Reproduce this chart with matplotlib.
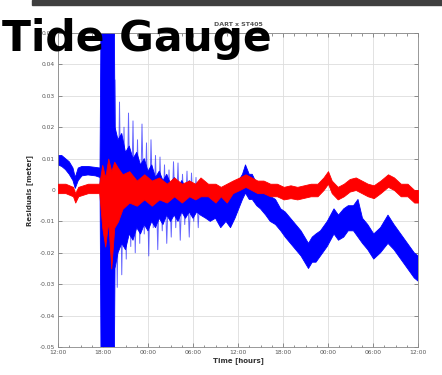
import numpy as np
import matplotlib
matplotlib.use("Agg")
import matplotlib.pyplot as plt
from matplotlib.patches import Rectangle
from matplotlib.ticker import MultipleLocator

# hours after 12:00 on day 1
tick_hours = [0, 6, 12, 18, 24, 30, 36, 42, 48]
tick_labels = ["12:00", "18:00", "00:00", "06:00", "12:00", "18:00", "00:00", "06:00", "12:00"]
y_ticks = [0.05, 0.04, 0.03, 0.02, 0.01, 0, -0.01, -0.02, -0.03, -0.04, -0.05]
y_labels = ["0.05", "0.04", "0.03", "0.02", "0.01", "0", "-0.01", "-0.02", "-0.03", "-0.04", "-0.05"]

# DART residual (blue) - dense band
blue_t = [0, 0.5, 1, 1.5, 2, 2.3, 2.7, 3.2, 4, 5, 5.6, 5.75, 7.5,
          7.6, 8.0, 8.5, 9.0, 9.5, 10, 10.5, 11, 11.5, 12, 12.5, 13, 13.5, 14, 14.5, 15, 15.5,
          16, 16.5, 17, 17.5, 18, 18.5,
          19.0, 19.7, 20.3, 21.0, 21.7, 22.4, 23.0, 23.6, 24.1, 24.6, 25.0, 25.5, 25.9, 26.5,
          27.0, 27.7, 28.3, 29.0, 29.7, 30.3, 31.0, 31.7, 32.4, 32.9, 33.4, 33.9, 34.4, 35.0,
          35.9, 36.8, 37.4, 38.1, 38.7, 39.4, 40.0, 40.6, 41.3, 42.1, 43.0, 44.0, 44.8, 45.7,
          46.6, 47.5, 48]
blue_hi = [0.011, 0.011, 0.010, 0.009, 0.007, 0.004, 0.007, 0.0075, 0.0075, 0.0072, 0.007, 0.06, 0.06,
           0.020, 0.016, 0.018, 0.012, 0.014, 0.010, 0.012, 0.008, 0.010, 0.006, 0.008, 0.004, 0.006,
           0.003, 0.005, 0.002, 0.004, 0.001, 0.003, 0.001, 0.003, 0.0, 0.002,
           0.003, 0.0, 0.000, 0.001, -0.002, 0.0, -0.002, 0.0, 0.003, 0.005, 0.008, 0.005, 0.005,
           0.002, 0.002, -0.001, -0.002, -0.003, -0.006, -0.007, -0.009, -0.011, -0.013, -0.015,
           -0.017, -0.015, -0.014, -0.013, -0.010, -0.006, -0.008, -0.006, -0.005, -0.005, -0.003,
           -0.009, -0.011, -0.014, -0.012, -0.008, -0.011, -0.014, -0.017, -0.020, -0.021]
blue_lo = [0.008, 0.0075, 0.0065, 0.005, 0.003, 0.0005, 0.003, 0.0045, 0.0048, 0.0045, 0.004, -0.06, -0.06,
           -0.025, -0.020, -0.017, -0.019, -0.014, -0.016, -0.012, -0.014, -0.011, -0.013, -0.010,
           -0.012, -0.009, -0.011, -0.008, -0.010, -0.008, -0.010, -0.007, -0.009, -0.007, -0.009, -0.007,
           -0.008, -0.009, -0.010, -0.009, -0.012, -0.010, -0.012, -0.009, -0.006, -0.003, -0.001,
           -0.003, -0.003, -0.005, -0.006, -0.008, -0.010, -0.011, -0.013, -0.015, -0.017, -0.019,
           -0.021, -0.023, -0.025, -0.023, -0.023, -0.021, -0.018, -0.014, -0.016, -0.015, -0.013,
           -0.013, -0.015, -0.017, -0.019, -0.022, -0.020, -0.017, -0.019, -0.022, -0.025, -0.028, -0.029]

# DART spikes after the arrival
spike_t = [7.6, 7.9, 8.2, 8.5, 8.8, 9.1, 9.4, 9.7, 10.0, 10.3, 10.6, 10.9, 11.2, 11.5, 11.8, 12.1,
           12.4, 12.7, 13.0, 13.3, 13.6, 13.9, 14.2, 14.5, 14.8, 15.1, 15.4, 15.7, 16.0, 16.3, 16.6,
           16.9, 17.2, 17.5, 17.8, 18.1, 18.4, 18.7, 19.0, 19.3]
spike_v = [0.035, -0.031, 0.028, -0.027, 0.02, -0.022, 0.0245, -0.018, 0.022, -0.02, 0.016, -0.017,
           0.021, -0.014, 0.015, -0.021, 0.016, -0.012, 0.011, -0.019, 0.0105, -0.013, 0.008, -0.017,
           0.0064, -0.015, 0.009, -0.012, 0.0086, -0.016, 0.005, -0.011, 0.006, -0.015, 0.0054, -0.01,
           0.004, -0.012, 0.003, -0.008]

# tide gauge residual (red)
red_t = [0, 1, 2, 2.3, 2.7, 4, 5.5, 5.9, 6.3, 6.7, 7.1, 7.5, 8.0, 8.6, 9.5, 10.5, 11.5, 12.5,
         13.5, 14.5, 15.5, 16.5, 17.5, 18.3,
         19, 20, 21, 21.7, 22.5, 23.3, 24.2, 25.0, 25.8, 26.6, 27.4, 28.3, 29.2, 30.1, 31.0, 31.9,
         32.8, 33.7, 34.6, 35.4, 36.0, 36.5, 37.3, 38.1, 38.9, 39.7, 40.5, 41.3, 42.1, 43.0, 44.0,
         44.8, 45.7, 46.6, 47.5, 48]
red_hi = [0.002, 0.002, 0.001, -0.001, 0.001, 0.002, 0.002, 0.008, 0.004, 0.010, 0.006, 0.009, 0.007,
          0.005, 0.006, 0.003, 0.005, 0.003, 0.004, 0.002, 0.004, 0.002, 0.003, 0.002,
          0.004, 0.002, 0.002, 0.001, 0.002, 0.003, 0.004, 0.005, 0.004, 0.003, 0.003, 0.002, 0.002,
          0.001, 0.0015, 0.001, 0.0015, 0.002, 0.002, 0.004, 0.006, 0.003, 0.001, 0.002, 0.0035,
          0.004, 0.003, 0.002, 0.0015, 0.003, 0.005, 0.004, 0.002, 0.002, 0.0, 0.0]
red_lo = [-0.001, -0.001, -0.002, -0.004, -0.002, -0.001, -0.001, -0.012, -0.018, -0.010, -0.025, -0.012,
          -0.010, -0.006, -0.004, -0.005, -0.003, -0.005, -0.003, -0.004, -0.002, -0.004, -0.002, -0.003,
          -0.002, -0.002, -0.004, -0.002, -0.004, -0.001, 0.0, 0.001, 0.0, -0.001, -0.001, -0.002,
          -0.002, -0.003, -0.0026, -0.003, -0.0025, -0.002, -0.002, 0.0, 0.002, -0.001, -0.003,
          -0.002, -0.0005, 0.0, -0.001, -0.002, -0.0026, -0.001, 0.001, 0.0, -0.002, -0.002, -0.004, -0.004]

fig = plt.figure(figsize=(4.42, 3.75), dpi=100)
ax = fig.add_axes([58 / 442, 28 / 375, 360 / 442, 314 / 375])

ax.fill_between(blue_t, blue_lo, blue_hi, color="#0000ff", lw=0.6, edgecolor="#0000ff", zorder=2)
ax.plot(spike_t, spike_v, color="#0000ff", lw=0.7, alpha=0.6, zorder=2)
ax.fill_between(red_t, red_lo, red_hi, color="#ff0000", lw=0.6, edgecolor="#ff0000", zorder=3)

ax.set_xlim(0, 48)
ax.set_ylim(-0.05, 0.05)
ax.set_xticks(tick_hours)
ax.set_xticklabels(tick_labels)
ax.set_yticks(y_ticks)
ax.set_yticklabels(y_labels)
ax.xaxis.set_minor_locator(MultipleLocator(1.5))
ax.tick_params(which="both", direction="in", top=True, right=True, labelsize=4.3,
               labelcolor="#555555", color="#666666", width=0.5, pad=2)
ax.tick_params(which="major", length=3)
ax.tick_params(which="minor", length=1.8)
ax.grid(True, color="#dddddd", lw=0.6)
ax.set_axisbelow(True)
for s in ax.spines.values():
    s.set_color("#888888")
    s.set_linewidth(0.6)

ax.set_xlabel("Time [hours]", fontsize=5, fontweight="bold", color="#333333", labelpad=2)
ax.set_ylabel("Residuals [meter]", fontsize=5, fontweight="bold", color="#333333", labelpad=5)
ax.set_title("DART x ST405", fontsize=4.5, fontweight="bold", color="#555555", pad=5)

fig.patches.append(Rectangle((32 / 442, 1 - 5 / 375), 1, 5 / 375, transform=fig.transFigure,
                             color="#3f3f3f", zorder=5))
fig.text(2 / 442, 1 - 51 / 375, "Tide Gauge", fontsize=30.5, fontweight="bold",
         family="DejaVu Sans", color="black", va="baseline", ha="left", zorder=10)

fig.savefig("out.png", dpi=100)
